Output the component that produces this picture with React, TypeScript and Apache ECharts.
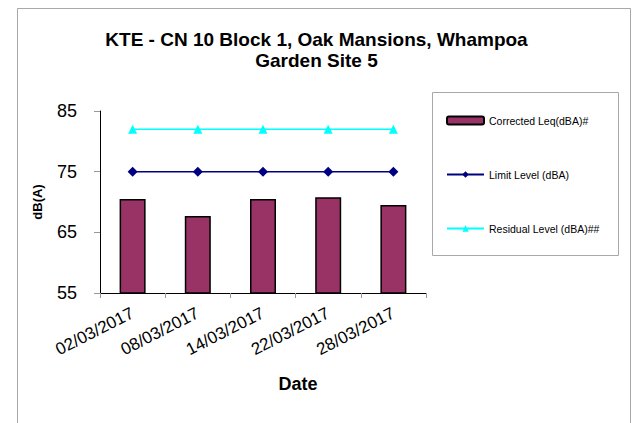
import React, { useEffect, useRef } from "react";
import * as echarts from "echarts";

const titleText = "KTE - CN 10 Block 1, Oak Mansions, Whampoa\nGarden Site 5";
const dates = ["02/03/2017", "08/03/2017", "14/03/2017", "22/03/2017", "28/03/2017"];
const correctedLeq = [70.5, 67.7, 70.5, 70.8, 69.5];
const limitLevel = [75, 75, 75, 75, 75];
const residualLevel = [82, 82, 82, 82, 82];
const seriesNames = ["Corrected Leq(dBA)#", "Limit Level (dBA)", "Residual Level (dBA)##"];
const xAxisTitle = "Date";
const yAxisTitle = "dB(A)";
const yMin = 55;
const yMax = 85;
const yStep = 10;

export default function App() {
  const ref = useRef<HTMLDivElement>(null);
  useEffect(() => {
    if (!ref.current) return;
    const chart = echarts.init(ref.current, null, { renderer: "svg" });
    const font = "Arial, 'Liberation Sans', sans-serif";
    chart.setOption({
      animation: false,
      backgroundColor: "#ffffff",
      textStyle: { fontFamily: font },
      title: {
        text: titleText,
        left: "center",
        top: 24,
        textStyle: { fontFamily: font, fontSize: 19, fontWeight: "bold", color: "#000", lineHeight: 21 },
      },
      graphic: [
        {
          type: "rect",
          shape: { x: 17.5, y: 8.5, width: 613, height: 430 },
          style: { fill: "none", stroke: "#a8a8a8", lineWidth: 1 },
          silent: true,
        },
        {
          type: "rect",
          shape: { x: 432.5, y: 92.5, width: 186, height: 163 },
          style: { fill: "none", stroke: "#a8a8a8", lineWidth: 1 },
          silent: true,
        },
        {
          type: "text",
          x: 298,
          y: 384,
          style: {
            text: xAxisTitle,
            fontFamily: font,
            fontSize: 18,
            fontWeight: "bold",
            fill: "#000",
            align: "center",
            verticalAlign: "middle",
          },
          silent: true,
        },
      ],
      legend: {
        orient: "vertical",
        left: 441,
        top: 110,
        itemGap: 43,
        itemWidth: 37,
        itemHeight: 8,
        data: seriesNames,
        textStyle: { fontFamily: font, fontSize: 10.5, color: "#000" },
      },
      grid: { left: 100, right: 207, top: 111, bottom: 130 },
      xAxis: {
        type: "category",
        data: dates,
        boundaryGap: true,
        axisLine: { lineStyle: { color: "#000", width: 1 } },
        axisTick: { show: true, length: 5, lineStyle: { color: "#999" } },
        axisLabel: { rotate: 27, fontSize: 17, color: "#000", fontFamily: font, margin: 19 },
      },
      yAxis: {
        type: "value",
        min: yMin,
        max: yMax,
        interval: yStep,
        splitLine: { show: false },
        axisLine: { show: true, lineStyle: { color: "#000", width: 1 } },
        axisTick: { show: true, length: 6, lineStyle: { color: "#999" } },
        axisLabel: { fontSize: 18, color: "#000", fontFamily: font, margin: 23 },
        name: yAxisTitle,
        nameLocation: "middle",
        nameGap: 56,
        nameTextStyle: { fontSize: 13, fontWeight: "bold", color: "#000", fontFamily: font },
      },
      series: [
        {
          name: seriesNames[0],
          type: "bar",
          data: correctedLeq,
          barWidth: 26,
          itemStyle: { color: "#993366", borderColor: "#000", borderWidth: 1.5 },
        },
        {
          name: seriesNames[1],
          type: "line",
          data: limitLevel,
          symbol: "diamond",
          symbolSize: 10,
          lineStyle: { color: "#000080", width: 1.5 },
          itemStyle: { color: "#000080" },
        },
        {
          name: seriesNames[2],
          type: "line",
          data: residualLevel,
          symbol: "triangle",
          symbolSize: 9,
          lineStyle: { color: "#00ffff", width: 1.5 },
          itemStyle: { color: "#00ffff" },
        },
      ],
    });
    return () => chart.dispose();
  }, []);
  return (
    <div
      ref={ref}
      style={{ position: "fixed", left: 0, top: 0, width: 633, height: 423 }}
    />
  );
}
